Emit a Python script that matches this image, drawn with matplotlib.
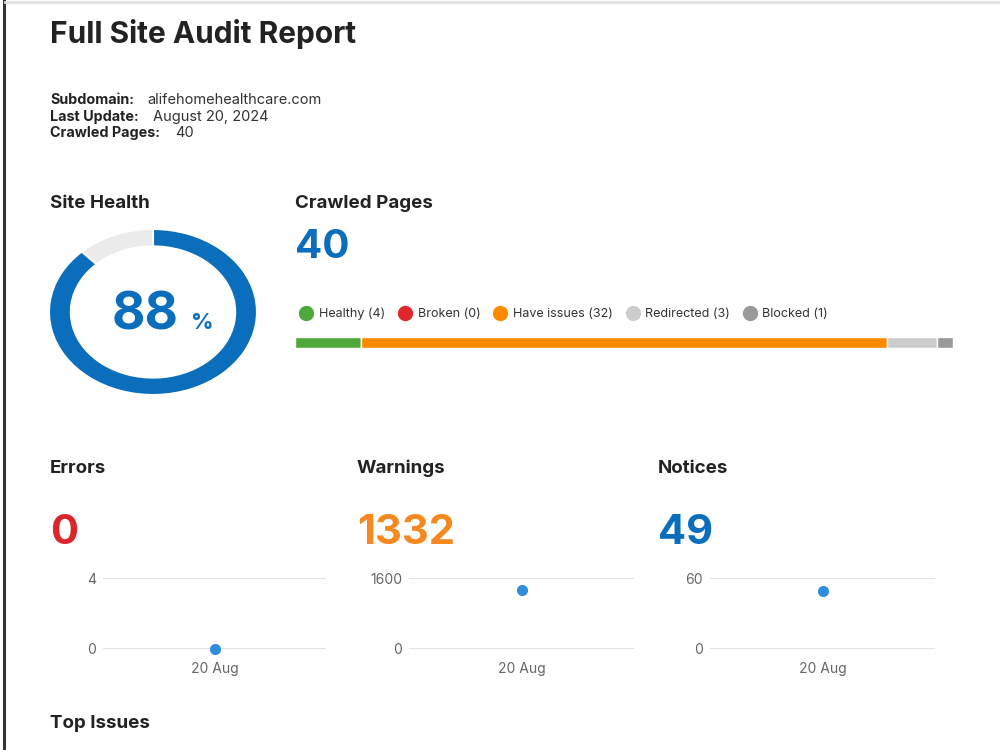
import matplotlib.pyplot as plt
from matplotlib.lines import Line2D

plt.rcParams['font.family'] = ['Inter', 'DejaVu Sans']

# report data
subdomain = "alifehomehealthcare.com"
last_update = "August 20, 2024"
crawled_total = 40
site_health = 88

page_labels = ["Healthy", "Broken", "Have issues", "Redirected", "Blocked"]
page_counts = [4, 0, 32, 3, 1]
page_colors = ["#4ea83a", "#e0262c", "#ff8a00", "#cccccc", "#9a9a9a"]

metric_names = ["Errors", "Warnings", "Notices"]
metric_values = [0, 1332, 49]
metric_colors = ["#d9262b", "#f5891f", "#0b6ebd"]
metric_ymax = [4, 1600, 60]
dates = ["20 Aug"]

BLUE = "#0b6ebd"
DARK = "#222222"

fig = plt.figure(figsize=(10, 7.5), dpi=100)
W, H = 1000, 750


def P(x, y):
    return x / W, 1 - y / H


def box(x0, y0, x1, y1):
    return [x0 / W, 1 - y1 / H, (x1 - x0) / W, (y1 - y0) / H]


def heading(x, y, s, size=13.5, **kw):
    fig.text(*P(x, y), s, fontsize=size, fontweight="bold", color=kw.pop("color", DARK),
             va="baseline", **kw)


# page frame
fig.add_artist(Line2D([4 / W, 4 / W], [0, 1], color="#333333", lw=2.2))
fig.add_artist(Line2D([5 / W, 1], [1 - 1.5 / H] * 2, color="#e2e2e2", lw=2))

heading(50, 43, "Full Site Audit Report", size=21.5)

info = [("Subdomain:", subdomain, 147), ("Last Update:", last_update, 153),
        ("Crawled Pages:", str(crawled_total), 175)]
for i, (lab, val, xv) in enumerate(info):
    y = 104 + i * 16.5
    heading(50, y, lab, size=10.3)
    fig.text(*P(xv, y), val, fontsize=10.5, color="#333333", va="baseline")

# site health donut
heading(50, 208, "Site Health")
ax = fig.add_axes(box(49, 229, 257, 395))
ax.pie([site_health, 100 - site_health], colors=[BLUE, "#ebebeb"], startangle=90,
       counterclock=False, wedgeprops=dict(width=0.21, edgecolor="white", linewidth=1.5))
ax.set_aspect("auto")
ax.set_xlim(-1, 1)
ax.set_ylim(-1, 1)
ax.text(0.245, -0.21, str(site_health), fontsize=37, fontweight="bold", color=BLUE,
        ha="right", va="baseline")
ax.text(0.37, -0.21, "%", fontsize=16, fontweight="bold", color=BLUE, ha="left",
        va="baseline")

# crawled pages
heading(295, 208, "Crawled Pages")
heading(295, 258, str(crawled_total), size=29, color=BLUE)

ax = fig.add_axes(box(295, 337, 953, 348))
left = 0
for lab, n, c in zip(page_labels, page_counts, page_colors):
    ax.barh(0, n, left=left, color=c, height=1, edgecolor="white", linewidth=1)
    left += n
ax.set_xlim(0, crawled_total)
ax.set_ylim(-0.5, 0.5)
ax.axis("off")
handles = [Line2D([], [], marker="o", ls="", color=c, markersize=10)
           for c in page_colors]
labels = [f"{l} ({n})" for l, n in zip(page_labels, page_counts)]
ax.legend(handles, labels, ncol=5, loc="center left", bbox_to_anchor=(0.0, 3.1),
          frameon=False, fontsize=9, handletextpad=0.5, columnspacing=1.1,
          borderaxespad=0, labelcolor="#333333", handlelength=1.0)

# metrics
xs = [50, 357, 658]
ax_x = [(103, 326), (409, 634), (710, 935)]
for name, val, col, ymax, x0, (a0, a1) in zip(metric_names, metric_values, metric_colors,
                                              metric_ymax, xs, ax_x):
    heading(x0, 473, name)
    heading(x0, 544, str(val), size=30, color=col)
    ax = fig.add_axes(box(a0, 578, a1, 649))
    ax.plot(range(len(dates)), [val], "o", color="#2f8ddc", markersize=7, clip_on=False)
    ax.set_xlim(-1, 1)
    ax.set_ylim(0, ymax)
    ax.set_yticks([0, ymax])
    ax.set_xticks(range(len(dates)))
    ax.set_xticklabels(dates)
    ax.grid(axis="y", color="#e3e3e3", lw=1.5)
    ax.set_axisbelow(True)
    for s in ax.spines.values():
        s.set_visible(False)
    ax.tick_params(length=0, labelsize=10, labelcolor="#666666")
    ax.tick_params(axis="y", pad=5)
    ax.tick_params(axis="x", pad=9)

heading(50, 728, "Top Issues")

fig.savefig("out.png", dpi=100, facecolor="white")
